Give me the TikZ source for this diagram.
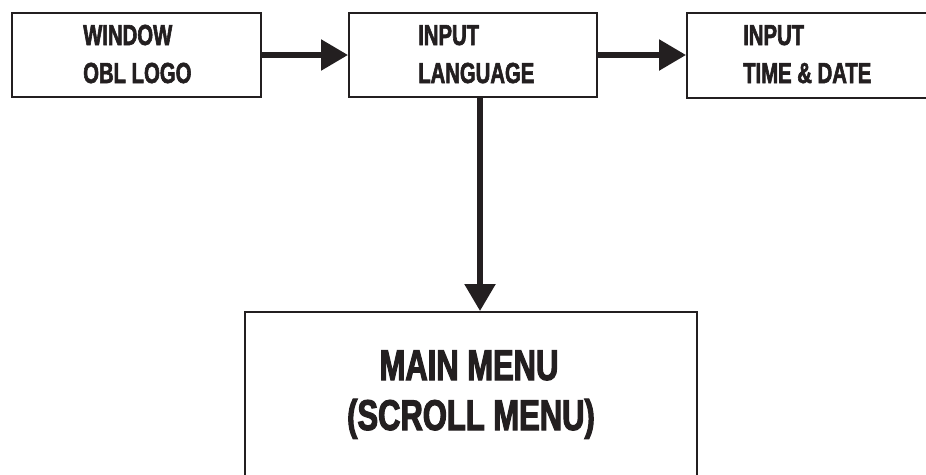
\documentclass[tikz,border=0pt]{standalone}
\usepackage{fontspec}
\newfontfamily\lblfont[FakeStretch=0.70,FakeBold=2]{Liberation Sans}
\newfontfamily\bigfont[FakeStretch=0.72,FakeBold=2.5]{Liberation Sans}
\usetikzlibrary{arrows.meta}
\definecolor{ink}{HTML}{231F20}
\tikzset{
  box/.style={draw=ink, line width=2pt, minimum width=#1, inner sep=0pt},
  lbl/.style={anchor=base west, inner sep=0pt, text=ink, font=\lblfont\bfseries\fontsize{29}{30}\selectfont},
  biglbl/.style={anchor=base, inner sep=0pt, text=ink, font=\bigfont\bfseries\fontsize{43}{46}\selectfont},
  arr/.style={draw=ink, line width=5.5pt, -{Triangle[length=27pt,width=30pt]}}
}
\begin{document}
\begin{tikzpicture}[x=1pt,y=-1pt]
\useasboundingbox[fill=white] (0,0) rectangle (926,474);
\node[box=249pt, minimum height=84pt] (b1) at (136.5,55) {};
\node[box=248pt, minimum height=84pt] (b2) at (473,55) {};
\node[box=300pt, minimum height=85pt] (b3) at (837,55.5) {};
\node[box=452pt, minimum height=220pt] (mm) at (471,422) {};
\node[lbl] (t1a) at (83,45) {WINDOW};
\node[lbl] (t1b) at (83,83) {OBL LOGO};
\node[lbl] (t2a) at (418,45) {INPUT};
\node[lbl] (t2b) at (418,83) {LANGUAGE};
\node[lbl] (t3a) at (743,45) {INPUT};
\node[lbl] (t3b) at (743,83) {TIME \& DATE};
\node[biglbl] (m1) at (469,380) {MAIN MENU};
\node[biglbl] (m2) at (471,430) {(SCROLL MENU)};
\coordinate (vx) at (480,0);
\draw[arr] (b1) -- (b2);
\draw[arr] (b2.east) -- (b3.west |- b2.east);
\draw[arr] (b2.south -| vx) -- (mm.north -| vx);
\end{tikzpicture}
\end{document}
